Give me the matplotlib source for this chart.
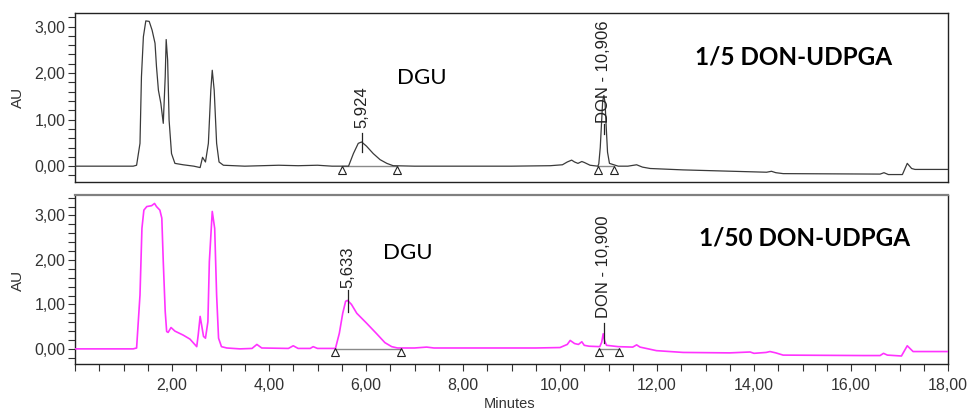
import matplotlib
matplotlib.use("Agg")
import matplotlib.pyplot as plt
from matplotlib.ticker import MultipleLocator, FuncFormatter

plt.rcParams['font.family'] = ['Liberation Sans', 'DejaVu Sans']

# --- 1/5 DON-UDPGA trace (minutes, AU)
top_time = [0.0, 1.20, 1.27, 1.34, 1.37, 1.41, 1.46, 1.53, 1.59, 1.65, 1.68, 1.72, 1.77, 1.82,
            1.86, 1.88, 1.91, 1.94, 1.99, 2.06, 2.23, 2.45, 2.58, 2.63, 2.69, 2.75, 2.80, 2.83,
            2.87, 2.92, 2.97, 3.06, 3.5, 4.2, 4.6, 5.0, 5.3, 5.64, 5.74, 5.84, 5.91, 6.01, 6.15,
            6.29, 6.43, 6.56, 7.0, 8.0, 9.0, 9.8, 10.05, 10.15, 10.24, 10.30, 10.37, 10.45, 10.50,
            10.62, 10.78, 10.80, 10.83, 10.86, 10.88, 10.905, 10.93, 10.95, 10.98, 11.02, 11.2,
            11.4, 11.58, 11.7, 11.86, 12.54, 13.57, 14.26, 14.36, 14.45, 14.6, 16.6, 16.68, 16.77,
            17.06, 17.16, 17.25, 17.32, 18.0]
top_au = [0.0, 0.0, 0.02, 0.49, 1.92, 2.78, 3.12, 3.11, 2.92, 2.64, 2.14, 1.63, 1.35, 0.92,
          1.92, 2.72, 2.28, 0.99, 0.27, 0.06, 0.03, 0.0, -0.03, 0.19, 0.09, 0.49, 1.63, 2.06,
          1.63, 0.49, 0.09, 0.02, 0.0, 0.02, 0.01, 0.02, 0.0, 0.0, 0.27, 0.49, 0.52, 0.43, 0.27,
          0.14, 0.06, 0.01, 0.0, 0.0, 0.0, 0.01, 0.03, 0.09, 0.13, 0.09, 0.06, 0.10, 0.08,
          0.02, 0.0, 0.05, 0.4, 1.0, 1.4, 1.52, 1.35, 0.9, 0.3, 0.06, 0.0,
          0.0, 0.03, -0.02, -0.05, -0.08, -0.11, -0.13, -0.11, -0.14, -0.16, -0.17, -0.14, -0.18,
          -0.18, 0.06, -0.05, -0.07, -0.07]

# --- 1/50 DON-UDPGA trace (minutes, AU)
bot_time = [0.0, 1.20, 1.27, 1.34, 1.38, 1.42, 1.48, 1.58, 1.64, 1.68, 1.75, 1.79, 1.82, 1.86,
            1.89, 1.92, 1.98, 2.06, 2.23, 2.37, 2.51, 2.54, 2.58, 2.61, 2.65, 2.69, 2.74, 2.77,
            2.83, 2.88, 2.92, 2.96, 3.02, 3.13, 3.4, 3.65, 3.75, 3.85, 4.4, 4.5, 4.6, 4.85, 4.91,
            5.0, 5.37, 5.45, 5.52, 5.58, 5.62, 5.70, 5.81, 6.01, 6.22, 6.39, 6.53, 6.65, 7.0,
            7.25, 7.4, 9.5, 10.0, 10.15, 10.21, 10.30, 10.38, 10.45, 10.50, 10.60, 10.82, 10.86,
            10.89, 10.92, 10.96, 11.2, 11.5, 11.58, 11.65, 11.99, 12.54, 13.5, 13.92, 14.0, 14.25,
            14.33, 14.45, 14.6, 16.25, 16.6, 16.67, 16.75, 17.04, 17.16, 17.28, 18.0]
bot_au = [0.0, 0.0, 0.02, 1.21, 2.71, 3.12, 3.20, 3.22, 3.27, 3.20, 3.12, 2.94, 1.96, 0.84,
          0.39, 0.37, 0.48, 0.40, 0.31, 0.22, 0.05, 0.31, 0.73, 0.54, 0.28, 0.24, 0.61, 1.96,
          3.09, 2.71, 1.21, 0.24, 0.05, 0.02, 0.0, 0.01, 0.10, 0.02, 0.01, 0.07, 0.01, 0.01, 0.05,
          0.01, 0.01, 0.35, 0.80, 1.07, 1.09, 1.00, 0.80, 0.58, 0.34, 0.14, 0.05, 0.02, 0.02,
          0.04, 0.02, 0.02, 0.03, 0.10, 0.19, 0.12, 0.10, 0.16, 0.08, 0.06, 0.05, 0.15,
          0.34, 0.18, 0.08, 0.05, 0.04, 0.09, 0.04, -0.04, -0.08, -0.09, -0.07, -0.10, -0.08,
          -0.06, -0.09, -0.14, -0.15, -0.15, -0.10, -0.14, -0.16, 0.07, -0.06, -0.06]

# integration start/end markers
top_marks = [5.50, 6.63, 10.78, 11.12]
bot_marks = [5.37, 6.73, 10.80, 11.22]

# peak labels: retention time, tick bottom, tick top, text bottom, text
top_peaks = [(5.924, 0.31, 0.72, 0.81, "5,924"),
             (10.906, 0.70, 0.90, 0.92, "DON - 10,906")]
bot_peaks = [(5.633, 0.84, 1.33, 1.37, "5,633"),
             (10.900, 0.13, 0.58, 0.69, "DON - 10,900")]

W, H = 967, 411
fig = plt.figure(figsize=(W / 100, H / 100), dpi=100)
ax1 = fig.add_axes([75 / W, 1 - 182 / H, 873 / W, 169 / H])
ax2 = fig.add_axes([75 / W, 1 - 364 / H, 873 / W, 169 / H])

comma = FuncFormatter(lambda v, p: ("%.2f" % v).replace(".", ","))


def draw_panel(ax, t, au, color, lw, marks, peaks, ylim, title, dgu_pos, title_pos):
    ax.plot(t, au, color=color, lw=lw, zorder=3)
    for a, b in zip(marks[::2], marks[1::2]):
        ax.plot([a, b], [0.0, 0.0], color='#8a8a8a', lw=1.0, zorder=2)
    ax.plot(marks, [-0.075] * len(marks), ls='none', marker='^', ms=6,
            mfc='none', mec='#222222', mew=0.8, zorder=4)
    for rt, lo, hi, ty, txt in peaks:
        ax.plot([rt, rt], [lo, hi], color='#222222', lw=0.9, zorder=4)
        ax.text(rt, ty, txt, rotation=90, ha='center', va='bottom',
                fontsize=12, color='#222222', zorder=5)
    ax.text(dgu_pos[0], dgu_pos[1], "DGU", transform=ax.transAxes, ha='center',
            va='center', fontsize=16, family=['Lato', 'DejaVu Sans'])
    ax.text(title_pos[0], title_pos[1], title, transform=ax.transAxes, ha='center',
            va='center', fontsize=17.5, fontweight='bold', family=['Lato', 'DejaVu Sans'])
    ax.set_xlim(0, 18)
    ax.set_ylim(*ylim)
    ax.yaxis.set_major_locator(MultipleLocator(1.0))
    ax.yaxis.set_minor_locator(MultipleLocator(0.2))
    ax.yaxis.set_major_formatter(comma)
    ax.tick_params(axis='y', which='both', direction='out', length=5, width=0.8,
                   colors='#333333', labelsize=11.5, pad=2)
    for s in ax.spines.values():
        s.set_color('#222222')
        s.set_linewidth(1.0)


draw_panel(ax1, top_time, top_au, '#3a3a3a', 0.9, top_marks, top_peaks,
           (-0.34, 3.29), "1/5 DON-UDPGA", (0.397, 0.615), (0.823, 0.74))
draw_panel(ax2, bot_time, bot_au, '#ff33ff', 1.2, bot_marks, bot_peaks,
           (-0.34, 3.46), "1/50 DON-UDPGA", (0.381, 0.655), (0.836, 0.744))

ax1.tick_params(axis='x', which='both', bottom=False, labelbottom=False)
ax2.spines['top'].set_color('#808080')
ax2.spines['top'].set_linewidth(1.6)

ax2.xaxis.set_major_locator(MultipleLocator(2.0))
ax2.xaxis.set_minor_locator(MultipleLocator(0.5))
ax2.xaxis.set_major_formatter(FuncFormatter(
    lambda v, p: "" if v == 0 else ("%.2f" % v).replace(".", ",")))
ax2.tick_params(axis='x', which='both', direction='out', length=5, width=0.8,
                colors='#333333', labelsize=11.5, pad=5)

fig.text(18 / W, 1 - 97 / H, "AU", rotation=90, ha='center', va='center',
         fontsize=11, color='#333333')
fig.text(18 / W, 1 - 280 / H, "AU", rotation=90, ha='center', va='center',
         fontsize=11, color='#333333')
fig.text(510 / W, 1 - 404 / H, "Minutes", ha='center', va='center',
         fontsize=10.5, color='#333333')

fig.savefig("out.png", dpi=100)
